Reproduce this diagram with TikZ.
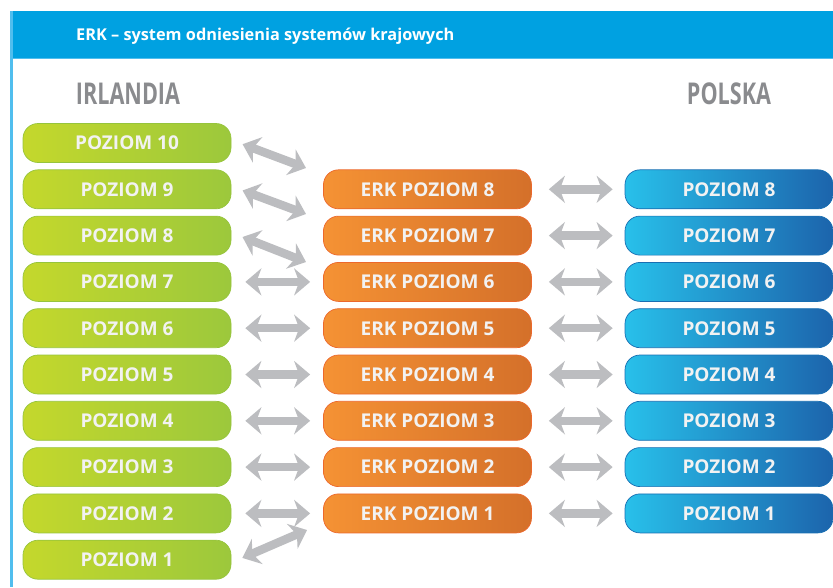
\documentclass[tikz,border=0pt]{standalone}
\usepackage{fontspec}
\setmainfont{Open Sans}
\newfontfamily\condfont[FakeStretch=0.72]{Open Sans}
\usetikzlibrary{arrows.meta}

\definecolor{headblue}{RGB}{0,161,225}
\definecolor{sideblue}{RGB}{80,190,238}
\definecolor{irleft}{RGB}{196,216,44}
\definecolor{irright}{RGB}{156,200,60}
\definecolor{irborder}{RGB}{150,196,60}
\definecolor{erkleft}{RGB}{245,146,52}
\definecolor{erkright}{RGB}{212,112,42}
\definecolor{erkborder}{RGB}{236,104,44}
\definecolor{plleft}{RGB}{40,192,234}
\definecolor{plright}{RGB}{28,100,172}
\definecolor{plborder}{RGB}{24,110,178}
\definecolor{boxtext}{RGB}{242,242,242}
\definecolor{countrygray}{RGB}{138,139,142}
\definecolor{arrowgray}{RGB}{188,189,192}

\tikzset{
  level/.style={rounded corners=15pt, minimum width=208pt, minimum height=39pt,
    inner sep=0pt, line width=0.7pt, text=boxtext,
    font=\bfseries\fontsize{19}{22}\selectfont},
  irlevel/.style={level, draw=irborder, left color=irleft, right color=irright},
  erklevel/.style={level, draw=erkborder, left color=erkleft, right color=erkright},
  pllevel/.style={level, draw=plborder, left color=plleft, right color=plright},
  country/.style={text=countrygray, font=\condfont\bfseries\fontsize{30}{32}\selectfont},
  twoway/.style={draw=arrowgray, line width=8.5pt,
    {Stealth[length=16pt,width=27pt,inset=5pt]}-{Stealth[length=16pt,width=27pt,inset=5pt]}}
}

\begin{document}
\begin{tikzpicture}[x=1pt,y=-1pt]
        \useasboundingbox (0,0) rectangle (833,587);

        % draw header and side line
        \fill[headblue] (10,11) rectangle (833,58);
        \draw[sideblue, line width=0.8pt] (10,58.4) -- (833,58.4);
        \draw[sideblue, line width=3pt] (11.5,11) -- (11.5,587);
        \node[anchor=west, inner sep=0pt, text=white, font=\bfseries\fontsize{16.3}{18}\selectfont] (title) at (76,36)
          {ERK – system odniesienia systemów krajowych};

        % draw country names
        \node[country] (irl) at (128,94) {IRLANDIA};
        \node[country] (pol) at (729,94) {POLSKA};

        % draw levels
        \foreach \i in {1,...,10} {
          \pgfmathsetmacro{\y}{143+(10-\i)*46.3}
          \node[irlevel] (g\i) at (127,\y) {POZIOM \i};
        }
        \foreach \k in {1,...,8} {
          \pgfmathsetmacro{\y}{143+(9-\k)*46.3}
          \node[erklevel] (e\k) at (427.5,\y) {ERK POZIOM \k};
          \node[pllevel] (p\k) at (729,\y) {POZIOM \k};
        }

        % draw horizontal arrows
        \foreach \k in {1,...,6} {
          \pgfmathtruncatemacro{\g}{\k+1}
          \draw[twoway, shorten <=14pt, shorten >=13pt] (g\g.east) -- (e\k.west);
        }
        \foreach \k in {1,...,8}
          \draw[twoway, shorten <=17pt, shorten >=12pt] (e\k.east) -- (p\k.west);

        % draw slanted arrows
        \coordinate (t10) at (306,168);
        \coordinate (t9) at (306,214);
        \coordinate (t8) at (306,262);
        \coordinate (t1) at (307,530);
        \foreach \i in {10,9,8}
          \draw[twoway, shorten <=12pt] ([yshift=3pt]g\i.east) -- (t\i);
        \draw[twoway, shorten <=12pt] ([yshift=-3pt]g1.east) -- (t1);
\end{tikzpicture}
\end{document}
